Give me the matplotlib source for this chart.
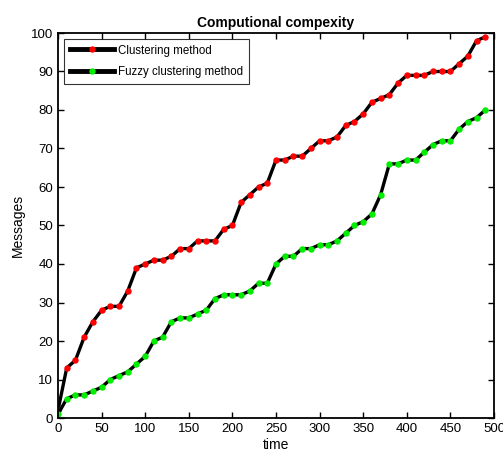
import numpy as np
import matplotlib.pyplot as plt

plt.rcParams['font.family'] = ['Liberation Sans', 'DejaVu Sans']

# データ
time = np.arange(0, 500, 10)
clustering = [2, 13, 15, 21, 25, 28, 29, 29, 33, 39,
              40, 41, 41, 42, 44, 44, 46, 46, 46, 49,
              50, 56, 58, 60, 61, 67, 67, 68, 68, 70,
              72, 72, 73, 76, 77, 79, 82, 83, 84, 87,
              89, 89, 89, 90, 90, 90, 92, 94, 98, 99]
fuzzy = [1, 5, 6, 6, 7, 8, 10, 11, 12, 14,
         16, 20, 21, 25, 26, 26, 27, 28, 31, 32,
         32, 32, 33, 35, 35, 40, 42, 42, 44, 44,
         45, 45, 46, 48, 50, 51, 53, 58, 66, 66,
         67, 67, 69, 71, 72, 72, 75, 77, 78, 80]

fig = plt.figure(figsize=(5.03, 4.65), dpi=100)
ax = fig.add_axes([58 / 503, 1 - 418 / 465, 436 / 503, 385 / 465])

ax.plot(time, clustering, color='black', linewidth=2.4, marker='o',
        markersize=3.6, markerfacecolor='red', markeredgecolor='red',
        label='Clustering method')
ax.plot(time, fuzzy, color='black', linewidth=2.4, marker='o',
        markersize=3.6, markerfacecolor='#00ee00', markeredgecolor='#00ee00',
        label='Fuzzy clustering method')

ax.set_xlim(0, 500)
ax.set_ylim(0, 100)
ax.set_xticks(np.arange(0, 501, 50))
ax.set_yticks(np.arange(0, 101, 10))
ax.tick_params(direction='in', top=True, right=True, labelsize=9.5,
               length=4, width=1)
for s in ax.spines.values():
    s.set_linewidth(1.3)

ax.set_title('Computional compexity', fontsize=10, fontweight='bold', pad=4)
ax.set_xlabel('time', fontsize=10, labelpad=2)
ax.set_ylabel('Messages', fontsize=10, labelpad=4)

leg = ax.legend(loc='upper left', fontsize=8.3, frameon=True, fancybox=False,
                edgecolor='black', handlelength=3.9, borderaxespad=0.5,
                labelspacing=0.8, handletextpad=0.3, borderpad=0.5)
leg.get_frame().set_linewidth(0.8)
for line in leg.get_lines():
    line.set_linewidth(3.5)

fig.savefig('out.png', dpi=100)
